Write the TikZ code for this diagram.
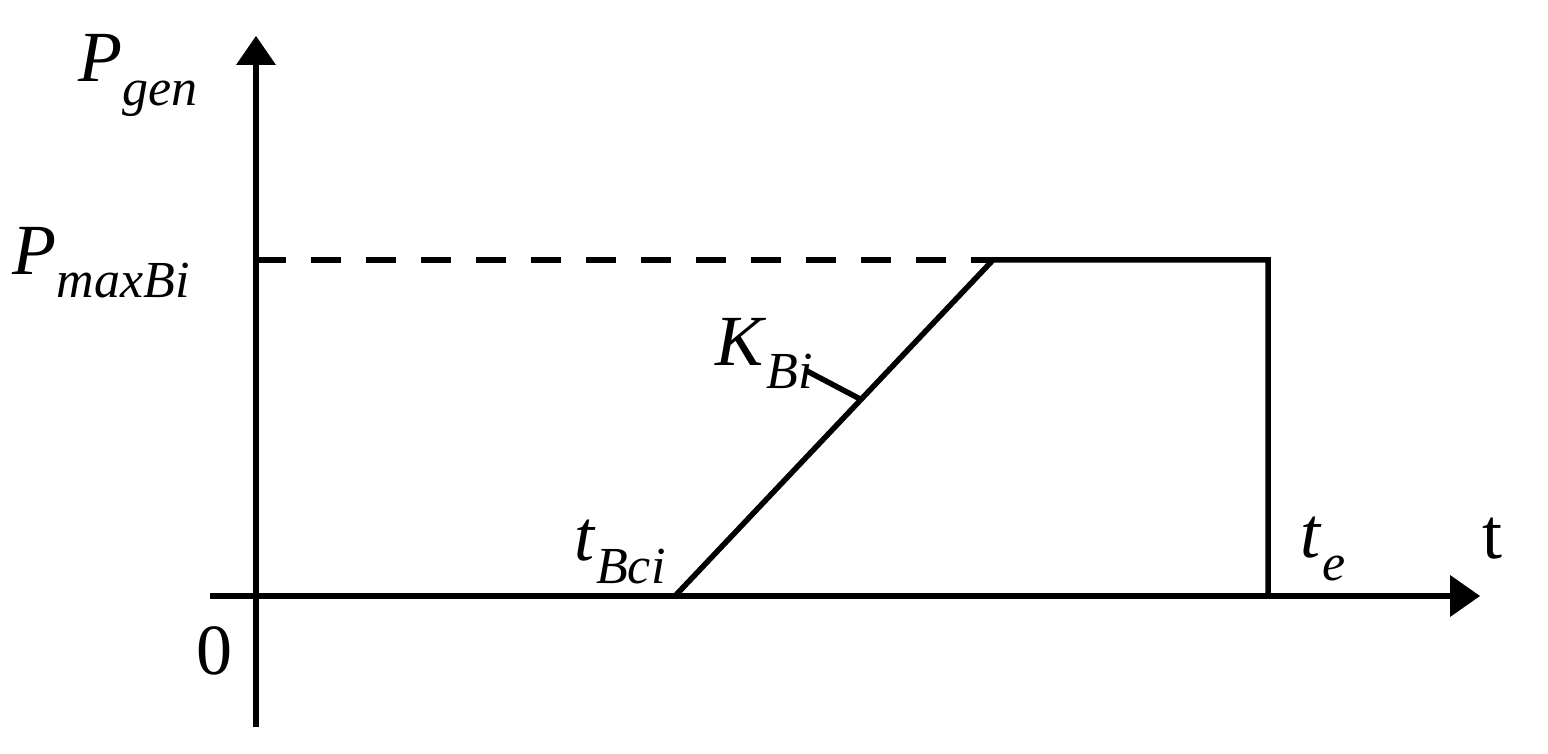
\documentclass[tikz,border=0pt]{standalone}
\usepackage{fontspec}
\setmainfont{Liberation Serif}
\newcommand{\mylab}[2]{\textit{#1}\raisebox{-0.32em}{\fontsize{52}{52}\selectfont\textit{#2}}}
\begin{document}
\begin{tikzpicture}[x=1pt,y=-1pt,line width=5.5pt,
  lbl/.style={font=\fontsize{72}{72}\selectfont,inner sep=0pt,anchor=base west},
  tip/.style={fill=black,draw=none}]
\useasboundingbox (0,0) rectangle (1548,754);
\coordinate (y0) at (256,727); \coordinate (ytop) at (256,60);
\coordinate (x0) at (210,596); \coordinate (xend) at (1452,596);
\draw (y0) -- (ytop);
\fill[tip] (256,36) -- (276,65) -- (236,65) -- cycle;
\draw (x0) -- (xend);
\fill[tip] (1480,596) -- (1450,575) -- (1450,617) -- cycle;
\coordinate (d0) at (256,260); \coordinate (a) at (675,596);
\coordinate (b) at (993,260); \coordinate (c) at (1268,260); \coordinate (dd) at (1268,596);
\draw[dash pattern=on 30pt off 25pt] (d0) -- (b);
\draw (a) -- (b) -- (c) -- (dd);
\coordinate (k1) at (805,370); \coordinate (k2) at (862,400);
\draw (k1) -- (k2);
\node[lbl] (pg) at (76,82) {\mylab{P}{gen}};
\node[lbl] (pm) at (10,274) {\mylab{P}{maxBi}};
\node[lbl] (kb) at (713,365) {\mylab{K}{Bi}};
\node[lbl] (tb) at (572,560) {\mylab{t}{Bci}};
\node[lbl] (te) at (1298,557) {\mylab{t}{e}};
\node[lbl] (tt) at (1480,558) {t};
\node[lbl] (z) at (194,674) {0};
\end{tikzpicture}
\end{document}
